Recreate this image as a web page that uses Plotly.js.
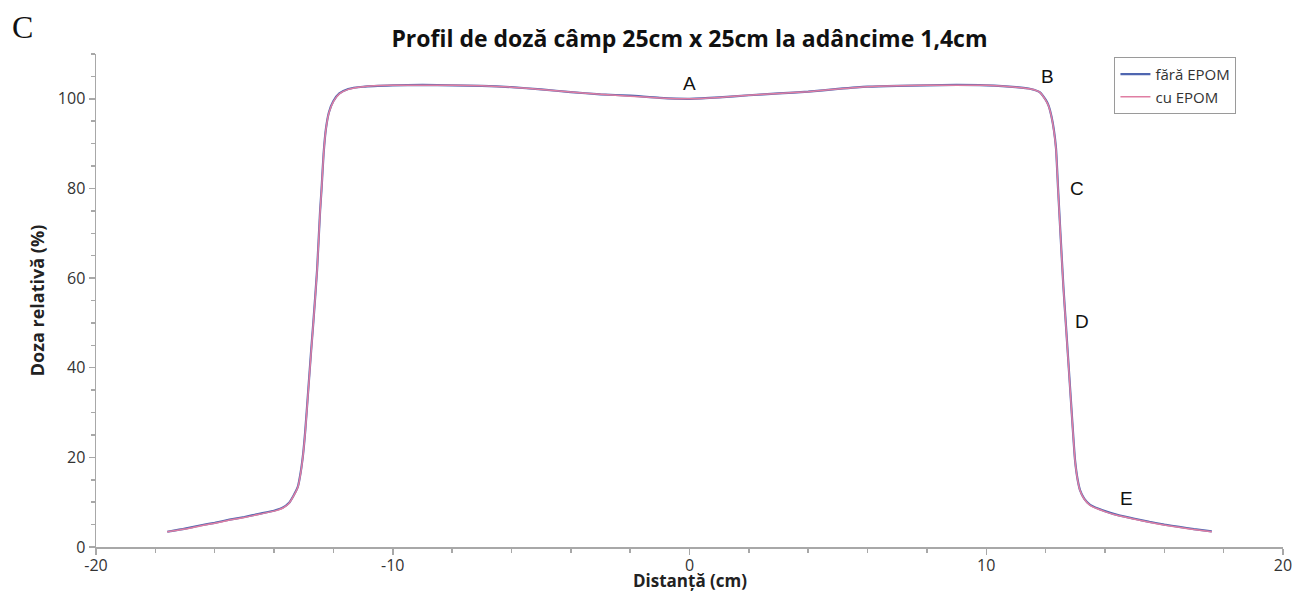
<!DOCTYPE html>
<html>
<head>
<meta charset="utf-8">
<script src="https://cdn.plot.ly/plotly-3.0.1.min.js"></script>
<style>
  html, body { margin: 0; padding: 0; background: #fff; }
  #chart { width: 1296px; height: 593px; }
</style>
</head>
<body>
<div id="chart"></div>
<script>
// Lateral dose profile, 25 cm x 25 cm field, depth 1.4 cm
const distanta = [
  -17.6, -17.0, -16.5, -16.0, -15.5, -15.0, -14.5, -14.0, -13.7, -13.5,
  -13.35, -13.2, -13.1, -13.02, -12.95, -12.85, -12.75, -12.68, -12.55, -12.45,
  -12.4, -12.33, -12.25, -12.15, -12.0, -11.8, -11.5, -11.0, -10.0, -9.0,
  -8.0, -7.0, -6.0, -5.0, -4.0, -3.0, -2.0, -1.0, 0.0, 1.0,
  2.0, 3.0, 4.0, 5.0, 6.0, 7.0, 8.0, 9.0, 10.0, 11.0,
  11.5, 11.8, 12.0, 12.1, 12.2, 12.28, 12.35, 12.42, 12.5, 12.6,
  12.68, 12.78, 12.9, 12.99, 13.08, 13.16, 13.3, 13.5, 14.0, 14.5,
  15.0, 15.5, 16.0, 16.5, 17.0, 17.6
];

const dozaFaraEPOM = [
  3.4, 4.1, 4.8, 5.4, 6.1, 6.7, 7.4, 8.1, 8.8, 9.8,
  11.4, 13.4, 16.8, 20.8, 25.8, 34.8, 43.8, 49.8, 61.8, 74.8,
  79.8, 87.8, 93.4, 97.0, 99.5, 101.2, 102.2, 102.7, 103.0, 103.1,
  103.0, 102.9, 102.6, 102.1, 101.5, 101.0, 100.7, 100.2, 100.0, 100.3,
  100.8, 101.2, 101.6, 102.2, 102.7, 102.9, 103.0, 103.1, 103.0, 102.6,
  102.2, 101.5, 99.8, 98.5, 96.0, 93.0, 89.0, 80.0, 70.0, 58.0,
  50.0, 40.0, 28.0, 19.5, 15.0, 12.7, 10.8, 9.4, 8.0, 7.0,
  6.3, 5.6, 5.0, 4.5, 4.0, 3.5
];

const dozaCuEPOM = [
  3.4, 4.0, 4.7, 5.3, 6.0, 6.6, 7.3, 8.0, 8.7, 9.7,
  11.3, 13.3, 16.6, 20.6, 25.5, 34.5, 43.5, 49.6, 61.6, 74.6,
  79.7, 87.7, 93.3, 96.9, 99.4, 101.1, 102.1, 102.7, 103.0, 103.0,
  103.0, 102.9, 102.6, 102.1, 101.5, 101.0, 100.6, 100.2, 100.0, 100.3,
  100.8, 101.2, 101.6, 102.2, 102.7, 102.9, 103.0, 103.0, 103.0, 102.6,
  102.2, 101.5, 99.7, 98.4, 95.9, 92.8, 88.8, 79.8, 69.8, 57.8,
  49.8, 39.8, 27.8, 19.4, 14.9, 12.6, 10.7, 9.3, 7.9, 6.9,
  6.2, 5.5, 4.9, 4.4, 3.9, 3.4
];

const numeSerii = ['fără EPOM', 'cu EPOM'];
const culoriSerii = ['#4f66b0', '#e07ea3'];

// Axis ticks (plain hyphen for negative values)
const xTickVals = [-20, -10, 0, 10, 20];
const xTickText = ['-20', '-10', '0', '10', '20'];
const yTickVals = [0, 20, 40, 60, 80, 100];

// Point labels on the profile: A (centre), B (shoulder), C, D (penumbra), E (tail)
const etichete = ['A', 'B', 'C', 'D', 'E'];
const etichetaX = [0.0, 12.05, 13.06, 13.23, 14.74];
const etichetaY = [103.4, 105.0, 80.0, 50.4, 10.9];

const traces = [
  {
    x: distanta, y: dozaFaraEPOM, name: numeSerii[0], type: 'scatter', mode: 'lines',
    line: { color: culoriSerii[0], width: 2.2, shape: 'spline', smoothing: 0.5 }
  },
  {
    x: distanta, y: dozaCuEPOM, name: numeSerii[1], type: 'scatter', mode: 'lines',
    line: { color: culoriSerii[1], width: 1.5, shape: 'spline', smoothing: 0.5 }
  }
];

const sans = 'Open Sans, DejaVu Sans, sans-serif';
const tickFont = { family: sans, size: 16, color: '#333' };
const axisTitleFont = { family: sans, size: 18, color: '#222' };

const annotations = etichete.map((t, i) => ({
  x: etichetaX[i], y: etichetaY[i], xref: 'x', yref: 'y',
  text: t, showarrow: false,
  font: { family: 'Liberation Sans, Arial, sans-serif', size: 19, color: '#111' }
}));

// Panel letter in the top-left corner
annotations.push({
  xref: 'paper', yref: 'paper',
  x: -0.0725, y: 1.055, xanchor: 'left', yanchor: 'middle',
  text: 'C', showarrow: false,
  font: { family: 'Liberation Serif, Times New Roman, serif', size: 32, color: '#111' }
});

// x-axis title, set against the bottom edge just under the tick labels
annotations.push({
  xref: 'paper', yref: 'paper',
  x: 0.5, y: -0.0945, xanchor: 'center', yanchor: 'bottom',
  text: '<b>Distanță (cm)</b>', showarrow: false,
  font: { family: sans, size: 17, color: '#222' }
});

const layout = {
  width: 1296, height: 593,
  margin: { l: 96, r: 13, t: 54, b: 46 },
  paper_bgcolor: '#ffffff', plot_bgcolor: '#ffffff',
  title: {
    text: '<b>Profil de doză câmp 25cm x 25cm la adâncime 1,4cm</b>',
    font: { family: sans, size: 23, color: '#111' },
    x: 0.532, xanchor: 'center', y: 0.935, yanchor: 'middle'
  },
  xaxis: {
    range: [-20, 20], tickvals: xTickVals, ticktext: xTickText,
    showgrid: false, zeroline: false, showline: true,
    linecolor: '#a8a8a8', linewidth: 1.5,
    ticks: 'outside', ticklen: 6, tickcolor: '#a8a8a8', tickwidth: 1.5,
    ticklabelstandoff: -3,
    minor: { dtick: 2, ticks: 'outside', ticklen: 4, tickcolor: '#a8a8a8', tickwidth: 1.5, showgrid: false },
    tickfont: tickFont
  },
  yaxis: {
    range: [0, 110], tickvals: yTickVals,
    showgrid: false, zeroline: false, showline: true,
    linecolor: '#a8a8a8', linewidth: 1.5,
    ticks: 'outside', ticklen: 6, tickcolor: '#a8a8a8', tickwidth: 1.5,
    minor: { dtick: 5, ticks: 'outside', ticklen: 4, tickcolor: '#a8a8a8', tickwidth: 1.5, showgrid: false },
    tickfont: tickFont,
    title: { text: '<b>Doza relativă (%)</b>', font: axisTitleFont, standoff: 8 }
  },
  legend: {
    x: 0.858, y: 0.994, xanchor: 'left', yanchor: 'top',
    bgcolor: '#ffffff', bordercolor: '#9a9a9a', borderwidth: 1,
    font: { family: sans, size: 15, color: '#333' },
    itemwidth: 30, tracegroupgap: 0
  },
  showlegend: true,
  annotations: annotations
};

Plotly.newPlot('chart', traces, layout, { displayModeBar: false, staticPlot: true });
</script>
</body>
</html>
